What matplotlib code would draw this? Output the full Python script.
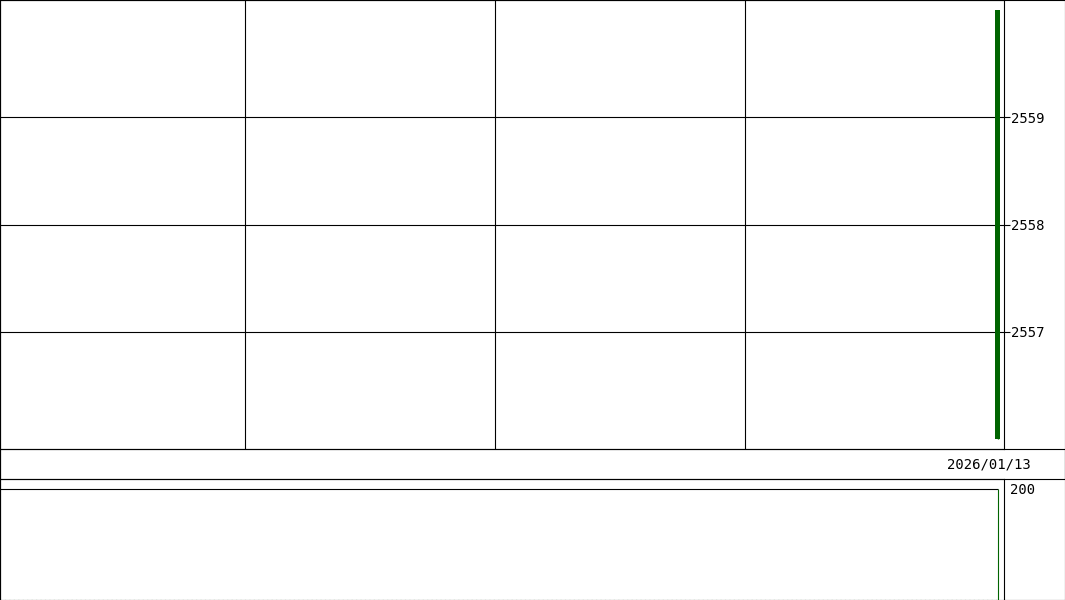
import matplotlib
matplotlib.use("Agg")
import matplotlib.pyplot as plt

# data
dates = ["2026/01/13"]
opens = [2556]
closes = [2560]
highs = [2560]
lows = [2556]
volumes = [200]
price_ticks = [2557, 2558, 2559]
volume_ticks = [200]

W, H = 1065, 600
FONT = "DejaVu Sans Mono"
GREEN = "#006400"


def px(l, t, r, b):
    return [l / W, 1 - b / H, (r - l) / W, (b - t) / H]


fig = plt.figure(figsize=(W / 100, H / 100), dpi=100)

# outer frame
frame = fig.add_axes(px(0, 0, 1064.5, 599.5))
frame.set_xticks([])
frame.set_yticks([])
for s in frame.spines.values():
    s.set_linewidth(0.8)

# slot layout: last candle at 0, monthly separators one unit apart
xlim = (-3.99, 0.026)
month_lines = [-3.01, -2.01, -1.01]

# price panel
ax = fig.add_axes(px(0, 0, 1004, 449))
ax.set_facecolor("none")
ax.set_xlim(*xlim)
ax.set_ylim(2555.91, 2560.09)
xs = list(range(-len(dates) + 1, 1))
for x, o, c, hi, lo in zip(xs, opens, closes, highs, lows):
    col = GREEN if c >= o else "#c00000"
    ax.vlines(x, lo, hi, color=col, lw=1, zorder=3)
    ax.bar(x, abs(c - o), bottom=min(o, c), width=0.022, color=col, zorder=3)
ax.set_yticks(price_ticks)
ax.set_yticklabels([str(t) for t in price_ticks], fontfamily=FONT, fontsize=10)
ax.yaxis.tick_right()
ax.tick_params(axis="y", length=4, width=0.8, pad=1, direction="out")
ax.set_xticks([])
for t in price_ticks:
    ax.axhline(t, color="black", lw=0.8, zorder=1)
for m in month_lines:
    ax.axvline(m, color="black", lw=0.8, zorder=1)
for s in ax.spines.values():
    s.set_linewidth(0.8)

# date strip
dax = fig.add_axes(px(0, 449, 1064.5, 479))
dax.set_xticks([])
dax.set_yticks([])
dax.set_facecolor("none")
for s in dax.spines.values():
    s.set_linewidth(0.8)
fig.text(989 / W, 1 - 464 / H, dates[-1], ha="center", va="center",
         fontfamily=FONT, fontsize=10)

# volume panel
vax = fig.add_axes(px(0, 479, 1004, 599.5))
vax.set_facecolor("none")
vax.set_xlim(*xlim)
vax.set_ylim(0, 218)
vax.hlines(0, xlim[0], xs[-1], color=GREEN, lw=0.8, linestyles=(0, (1, 3)))
for x, v in zip(xs, volumes):
    vax.vlines(x, 0, v, color=GREEN, lw=0.8, zorder=3)
for t in volume_ticks:
    vax.hlines(t, xlim[0], xs[-1], color="black", lw=0.8, zorder=1)
vax.set_yticks(volume_ticks)
vax.set_yticklabels([str(t) for t in volume_ticks], fontfamily=FONT, fontsize=10)
vax.yaxis.tick_right()
vax.tick_params(axis="y", length=0, pad=4)
vax.set_xticks([])
vax.spines["bottom"].set_visible(False)
for s in vax.spines.values():
    s.set_linewidth(0.8)

fig.savefig("out.png", dpi=100)
